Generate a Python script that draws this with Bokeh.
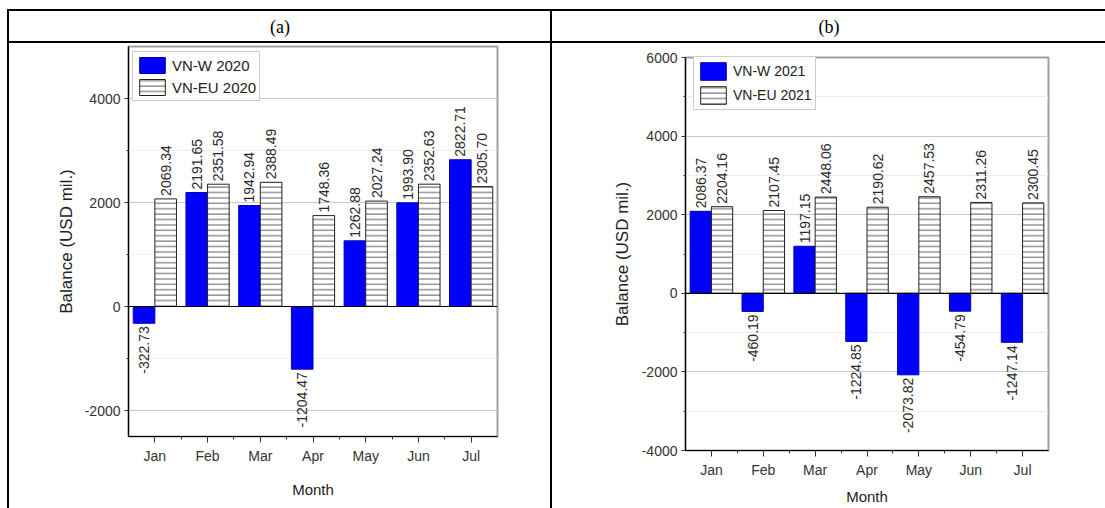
import math
from bokeh.plotting import figure
from bokeh.models import (Range1d, FixedTicker, Span, Legend, LegendItem,
                          ColumnDataSource, Div, Spacer)
from bokeh.layouts import row, column
from bokeh.embed import file_html
from bokeh.resources import INLINE
from bokeh.core.properties import value

months = ["Jan", "Feb", "Mar", "Apr", "May", "Jun", "Jul"]
vnw_2020 = [-322.73, 2191.65, 1942.94, -1204.47, 1262.88, 1993.90, 2822.71]
vneu_2020 = [2069.34, 2351.58, 2388.49, 1748.36, 2027.24, 2352.63, 2305.70]
vnw_2021 = [2086.37, -460.19, 1197.15, -1224.85, -2073.82, -454.79, -1247.14]
vneu_2021 = [2204.16, 2107.45, 2448.06, 2190.62, 2457.53, 2311.26, 2300.45]

yticks_a = [-2000, 0, 2000, 4000]
yminor_a = [-1000, 1000, 3000]
yticks_b = [-4000, -2000, 0, 2000, 4000, 6000]
yminor_b = [-3000, -1000, 1000, 3000, 5000]
panel_titles = ["(a)", "(b)"]

FONT = "Liberation Sans"


def chart(w_vals, eu_vals, w_name, eu_name, ymin, ymax, yticks, yminor,
          W, frame_h, bl, br, bt, bb, leg_xy, ylab_standoff, xlab_standoff,
          legend_font, glyph_h):
    H = bt + frame_h + bb
    p = figure(width=W, height=H, x_range=Range1d(0.5, len(months) + 0.5),
               y_range=Range1d(ymin, ymax), output_backend="svg",
               toolbar_location=None, min_border_left=bl, min_border_right=br,
               min_border_top=bt, min_border_bottom=bb, margin=0)
    p.background_fill_color = "white"
    p.border_fill_color = "white"
    p.outline_line_color = "#a0a0a0"
    p.outline_line_width = 2

    off = 3 * (ymax - ymin) / frame_h
    xs = [i + 1 for i in range(len(months))]
    bw = 0.41
    dx = 0.205

    p.xgrid.visible = False
    p.ygrid.ticker = FixedTicker(ticks=yticks, minor_ticks=yminor)
    p.ygrid.grid_line_color = "#c8c8c8"
    p.ygrid.minor_grid_line_color = "#ededed"

    src_w = ColumnDataSource(dict(x=[x - dx for x in xs], top=w_vals))
    src_eu = ColumnDataSource(dict(x=[x + dx for x in xs], top=eu_vals))
    r_w = p.vbar(x="x", top="top", bottom=0, width=bw, source=src_w,
                 fill_color="#0000ff", line_color="#0000b0", line_width=1)
    r_eu = p.vbar(x="x", top="top", bottom=0, width=bw, source=src_eu,
                  fill_color="white", line_color="#222222", line_width=1,
                  hatch_pattern="horizontal_line", hatch_color="#333333",
                  hatch_scale=5.4, hatch_weight=0.8)

    p.add_layout(Span(location=0, dimension="width", line_color="black",
                      line_width=1.2))

    allx = [x - dx for x in xs] + [x + dx for x in xs]
    allv = list(w_vals) + list(eu_vals)
    pos = dict(x=[], y=[], t=[])
    neg = dict(x=[], y=[], t=[])
    for x, v in zip(allx, allv):
        d = pos if v >= 0 else neg
        d["x"].append(x)
        d["y"].append(v + off if v >= 0 else v - off)
        d["t"].append(f"{v:.2f}")
    for d, al in ((pos, "left"), (neg, "right")):
        p.text(x="x", y="y", text="t", source=ColumnDataSource(d),
               angle=math.pi / 2, text_align=al, text_baseline="middle",
               text_font=value(FONT), text_font_size="14px",
               text_color="#2a2a2a")

    p.xaxis.ticker = FixedTicker(ticks=xs,
                                 minor_ticks=[x + 0.5 for x in xs[:-1]])
    p.xaxis.major_label_overrides = {x: m for x, m in zip(xs, months)}
    p.yaxis.ticker = FixedTicker(ticks=yticks, minor_ticks=yminor)
    p.yaxis.major_label_overrides = {t: str(t) for t in yticks}
    for ax in (p.xaxis[0], p.yaxis[0]):
        ax.axis_line_color = "black"
        ax.axis_line_width = 1.2
        ax.major_tick_line_color = "#333333"
        ax.minor_tick_line_color = "#333333"
        ax.major_tick_in = 0
        ax.minor_tick_in = 0
        ax.major_label_text_font = FONT
        ax.major_label_text_color = "#333333"
        ax.axis_label_text_font = FONT
        ax.axis_label_text_font_style = "normal"
        ax.axis_label_text_color = "#222222"
    p.xaxis.major_tick_out = 6
    p.xaxis.minor_tick_out = 3
    p.xaxis.major_label_text_font_size = "14px"
    p.xaxis.major_label_standoff = 5
    p.xaxis.axis_label = "Month"
    p.xaxis.axis_label_text_font_size = "15px"
    p.xaxis.axis_label_standoff = xlab_standoff
    p.yaxis.major_tick_out = 4
    p.yaxis.minor_tick_out = 2
    p.yaxis.major_label_text_font_size = "14px"
    p.yaxis.major_label_standoff = 4
    p.yaxis.axis_label = "Balance (USD mil.)"
    p.yaxis.axis_label_text_font_size = "17px"
    p.yaxis.axis_label_standoff = ylab_standoff

    legend = Legend(items=[LegendItem(label=w_name, renderers=[r_w]),
                           LegendItem(label=eu_name, renderers=[r_eu])],
                    location=leg_xy, glyph_width=32, glyph_height=glyph_h,
                    label_height=glyph_h, padding=3, spacing=2, margin=0,
                    label_standoff=4, label_text_font=FONT,
                    label_text_font_size=legend_font,
                    label_text_color="#222222",
                    border_line_color="#999999", border_line_width=1,
                    background_fill_color="white", background_fill_alpha=1)
    p.add_layout(legend)
    return p


def header(text, w, h):
    p = figure(width=w, height=h, x_range=Range1d(0, 1), y_range=Range1d(0, 1),
               x_axis_type=None, y_axis_type=None, toolbar_location=None,
               min_border=0, output_backend="svg", margin=0)
    p.outline_line_color = None
    p.background_fill_color = "white"
    p.border_fill_color = "white"
    p.grid.visible = False
    p.text(x=[0.5], y=[0.5], text=[text], text_align="center",
           text_baseline="middle", text_font=value("Liberation Serif"),
           text_font_size="18px", text_color="black")
    return p


def bar(w, h):
    return Div(width=w, height=h, margin=0,
               styles={"background-color": "black"})


def gap(w, h):
    return Spacer(width=w, height=h, margin=0)


H_HEAD = 30
H_BODY = 465
W_A = 541
W_B = 553

# chart (a): frame from y=46 to y=436 of the page; chart (b): 57 to 450
pa = chart(vnw_2020, vneu_2020, "VN-W 2020", "VN-EU 2020",
           -2500, 5000, yticks_a, yminor_a,
           W_A, 390, 119, 53, 3, 72, (4, 335), 6, 14, "15px", 20)
pb = chart(vnw_2021, vneu_2021, "VN-W 2021", "VN-EU 2021",
           -4000, 6000, yticks_b, yminor_b,
           W_B, 393, 133, 57, 14, 58, (8, 340), 7, 7, "14px", 22)

cell_a = column(pa, spacing=0, margin=0)
cell_b = column(pb, spacing=0, margin=0)

ha = header(panel_titles[0], W_A, H_HEAD)
hb = header(panel_titles[1], W_B, H_HEAD)

layout = column(
    gap(1105, 9),
    row(gap(7, 2), bar(1098, 2), spacing=0, margin=0),
    row(gap(7, H_HEAD), bar(2, H_HEAD), ha, bar(2, H_HEAD), hb,
        spacing=0, margin=0),
    row(gap(7, 2), bar(1098, 2), spacing=0, margin=0),
    row(gap(7, H_BODY), bar(2, H_BODY), cell_a, bar(2, H_BODY), cell_b,
        spacing=0, margin=0),
    spacing=0, margin=0,
)
open("out.html", "w").write(file_html(layout, INLINE))
